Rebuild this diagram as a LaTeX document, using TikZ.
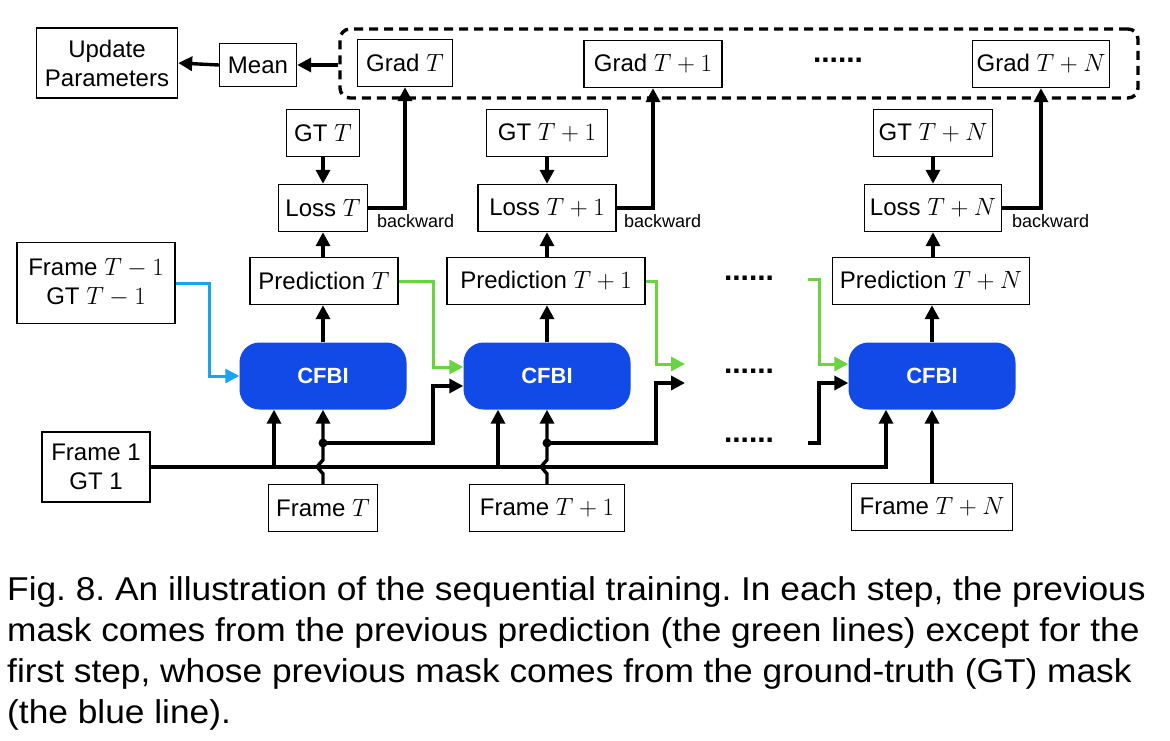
\documentclass[tikz,border=0pt]{standalone}
\usepackage{fontspec}
\setmainfont{Liberation Sans}
\newfontfamily\captionfont[FakeStretch=1.07]{Liberation Sans}
\usetikzlibrary{arrows.meta}
\definecolor{cfbiblue}{RGB}{18,74,232}
\definecolor{gtblue}{RGB}{24,164,240}
\definecolor{predgreen}{RGB}{104,212,64}

\begin{document}
\begin{tikzpicture}[x=1pt, y=-1pt,
    box/.style = {draw, line width=1.4pt, minimum height=47pt, inner sep=0pt,
                  align=center, font=\fontsize{24}{29}\selectfont},
    cfbi/.style = {fill=cfbiblue, rounded corners=20pt, minimum width=167pt,
                   minimum height=67pt, text=white, font=\fontsize{22}{26}\selectfont\bfseries},
    arr/.style = {line width=3.4pt, -{Triangle[length=14pt,width=14pt]}},
    bluearr/.style = {arr, line width=3pt, gtblue},
    greenarr/.style = {arr, line width=3pt, predgreen},
    dotsnode/.style = {inner sep=0pt, font=\fontsize{30}{30}\selectfont\bfseries},
    smalltext/.style = {anchor=west, inner sep=0pt, font=\fontsize{18}{18}\selectfont}]
          \useasboundingbox (0,0) rectangle (1170,741);
          % top row
          \node[box, minimum width=141pt, minimum height=70pt] (update) at (107,63) {Update\\Parameters};
          \node[box, minimum width=77pt, minimum height=43pt] (mean) at (258,65) {Mean};
          \node[draw, line width=3.4pt, dash pattern=on 9pt off 6pt, rounded corners=10pt,
                minimum width=798pt, minimum height=69pt] (grads) at (739,63.5) {};
          \node[box, minimum width=95pt] (gradA) at (405,63) {Grad $T$};
          \node[box, minimum width=138pt] (gradB) at (653,64) {Grad $T+1$};
          \node[box, minimum width=137pt] (gradC) at (1041,64) {Grad $T+N$};
          \node[dotsnode] (dotsG) at (838,60) {......};
          % ground truth and loss
          \node[box, minimum width=73pt] (gtA) at (323,133) {GT $T$};
          \node[box, minimum width=121pt] (gtB) at (547,133) {GT $T+1$};
          \node[box, minimum width=119pt] (gtC) at (933,133) {GT $T+N$};
          \node[box, minimum width=89pt] (lossA) at (323,208) {Loss $T$};
          \node[box, minimum width=138pt] (lossB) at (547,208) {Loss $T+1$};
          \node[box, minimum width=137pt] (lossC) at (933,208) {Loss $T+N$};
          \node[smalltext] (bwA) at (377,221) {backward};
          \node[smalltext] (bwB) at (624,221) {backward};
          \node[smalltext] (bwC) at (1012,221) {backward};
          % predictions
          \node[box, minimum width=158pt, minimum height=81pt] (prev) at (96,283) {Frame $T-1$\\GT $T-1$};
          \node[box, minimum width=148pt] (predA) at (324,281) {Prediction $T$};
          \node[box, minimum width=198pt] (predB) at (546,281) {Prediction $T+1$};
          \node[box, minimum width=197pt] (predC) at (931,281) {Prediction $T+N$};
          \node[dotsnode] (dotsP) at (749,278) {......};
          % networks
          \node[cfbi] (cfbiA) at (323,376) {CFBI};
          \node[cfbi] (cfbiB) at (547,376) {CFBI};
          \node[cfbi] (cfbiC) at (932,376) {CFBI};
          \node[dotsnode] (dotsC) at (749,371) {......};
          \node[dotsnode] (dotsF) at (749,440) {......};
          % frames
          \node[box, minimum width=108pt, minimum height=70pt] (frameone) at (96,467) {Frame 1\\GT 1};
          \node[box, minimum width=109pt] (frameA) at (323,508) {Frame $T$};
          \node[box, minimum width=155pt] (frameB) at (547,508) {Frame $T+1$};
          \node[box, minimum width=161pt] (frameC) at (932,507) {Frame $T+N$};

          \coordinate (jA) at (323,443);
          \coordinate (jB) at (547,443);
          \coordinate (outBgreen) at (685,364);
          \coordinate (outBblack) at (685,383);
          \coordinate (inCgreen) at (808,279);
          \coordinate (inCblack) at (808,443);

          % gradients
          \draw[arr] (mean.west) -- (update.east);
          \draw[arr] (grads.west |- mean.east) -- (mean.east);
          \draw[arr] (lossA.east) -| (gradA.south);
          \draw[arr] (lossB.east) -| (gradB.south);
          \draw[arr] (lossC.east) -| (gradC.south);
          \draw[arr] (gtA.south) -- (lossA.north);
          \draw[arr] (gtB.south) -- (lossB.north);
          \draw[arr] (gtC.south) -- (lossC.north);
          \draw[arr] (predA.north -| lossA.south) -- (lossA.south);
          \draw[arr] (predB.north -| lossB.south) -- (lossB.south);
          \draw[arr] (predC.north -| lossC.south) -- (lossC.south);
          \draw[arr] (cfbiA.north) -- (cfbiA.north |- predA.south);
          \draw[arr] (cfbiB.north) -- (cfbiB.north |- predB.south);
          \draw[arr] (cfbiC.north) -- (cfbiC.north |- predC.south);
          % previous masks
          \draw[bluearr] (prev.east) -- ++(34,0) |- (cfbiA.west);
          \draw[greenarr] (predA.east) -- ++(35,0) |- (cfbiB.west |- 0,367);
          \draw[greenarr] (predB.east) -- ++(11,0) |- (outBgreen);
          \draw[greenarr] (inCgreen) -- ++(11,0) |- (cfbiC.west |- 0,364);
          % previous frames
          \draw[arr] (jA) -- ++(110,0) |- (cfbiB.west |- 0,386);
          \draw[arr] (jB) -- ++(109,0) |- (outBblack);
          \draw[arr] (inCblack) -- ++(11,0) |- (cfbiC.west |- 0,383);
          % first frame
          \draw[arr] (frameone.east) -| (cfbiC.south -| 886,0);
          \draw[arr] (frameone.east -| 274,0) -- (cfbiA.south -| 274,0);
          \draw[arr] (frameone.east -| 498,0) -- (cfbiB.south -| 498,0);
          % current frames
          \draw[arr] (frameA.north) -- ++(0,-10) -- ++(-6,-7) -- ++(6,-7) -- (cfbiA.south);
          \draw[arr] (frameB.north) -- ++(0,-10) -- ++(-6,-7) -- ++(6,-7) -- (cfbiB.south);
          \draw[arr] (frameC.north) -- (cfbiC.south);
          \fill (jA) circle[radius=4.5pt];
          \fill (jB) circle[radius=4.5pt];

          \node[anchor=north west, inner sep=0pt, align=left,
                font=\captionfont\fontsize{33}{41}\selectfont\frenchspacing] (caption) at (7,576)
            {Fig. 8. An illustration of the sequential training. In each step, the previous\\
             mask comes from the previous prediction (the green lines) except for the\\
             first step, whose previous mask comes from the ground-truth (GT) mask\\
             (the blue line).};
        \end{tikzpicture}
\end{document}
